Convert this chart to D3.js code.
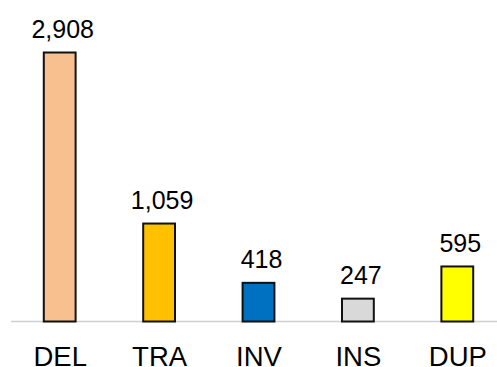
<!DOCTYPE html>
<html>
<head>
<meta charset="utf-8">
<script src="https://cdn.jsdelivr.net/npm/d3@7"></script>
<style>
  html, body { margin: 0; padding: 0; background: #fff; }
  text { font-family: "Liberation Sans", Arial, sans-serif; fill: #000; }
</style>
</head>
<body>
<div id="chart"></div>
<script>
var width = 497,
    height = 367;

// data
var categories = ['DEL', 'TRA', 'INV', 'INS', 'DUP'];
var counts = [2908, 1059, 418, 247, 595];
var colors = ['#F9C08F', '#FFC000', '#0070C0', '#D9D9D9', '#FFFF00'];

var baseline = 321.5;

var x = d3.scaleBand()
    .domain(categories)
    .range([10, 507])
    .paddingInner(0.68)
    .paddingOuter(0.34);

var y = d3.scaleLinear()
    .domain([0, 3000])
    .range([baseline, 44]);

var svg = d3.select('#chart').append('svg')
    .attr('width', width)
    .attr('height', height);

// axis line
svg.append('line')
    .attr('x1', 11)
    .attr('x2', width)
    .attr('y1', baseline)
    .attr('y2', baseline)
    .style('stroke', '#d0d0d0')
    .style('stroke-width', 1.5);

svg.selectAll('.bar').data(counts)
    .enter().append('rect')
    .attr('class', 'bar')
    .attr('x', function (d, i) { return x(categories[i]); })
    .attr('width', x.bandwidth())
    .attr('y', function (d) { return y(d); })
    .attr('height', function (d) { return baseline - y(d); })
    .style('fill', function (d, i) { return colors[i]; })
    .style('stroke', '#111')
    .style('stroke-width', 2);

// value labels (sit a little right of the bar centre, as in the original)
svg.selectAll('.val').data(counts)
    .enter().append('text')
    .attr('class', 'val')
    .attr('x', function (d, i) { return x(categories[i]) + x.bandwidth() / 2 + 3; })
    .attr('y', function (d) { return y(d) - 14.5; })
    .attr('text-anchor', 'middle')
    .style('font-size', '25px')
    .text(function (d) { return d3.format(',')(d); });

// category labels
svg.selectAll('.cat').data(categories)
    .enter().append('text')
    .attr('class', 'cat')
    .attr('x', function (d) { return x(d) + x.bandwidth() / 2 + 0.5; })
    .attr('y', 365.5)
    .attr('text-anchor', 'middle')
    .style('font-size', '27.5px')
    .text(function (d) { return d; });
</script>
</body>
</html>
